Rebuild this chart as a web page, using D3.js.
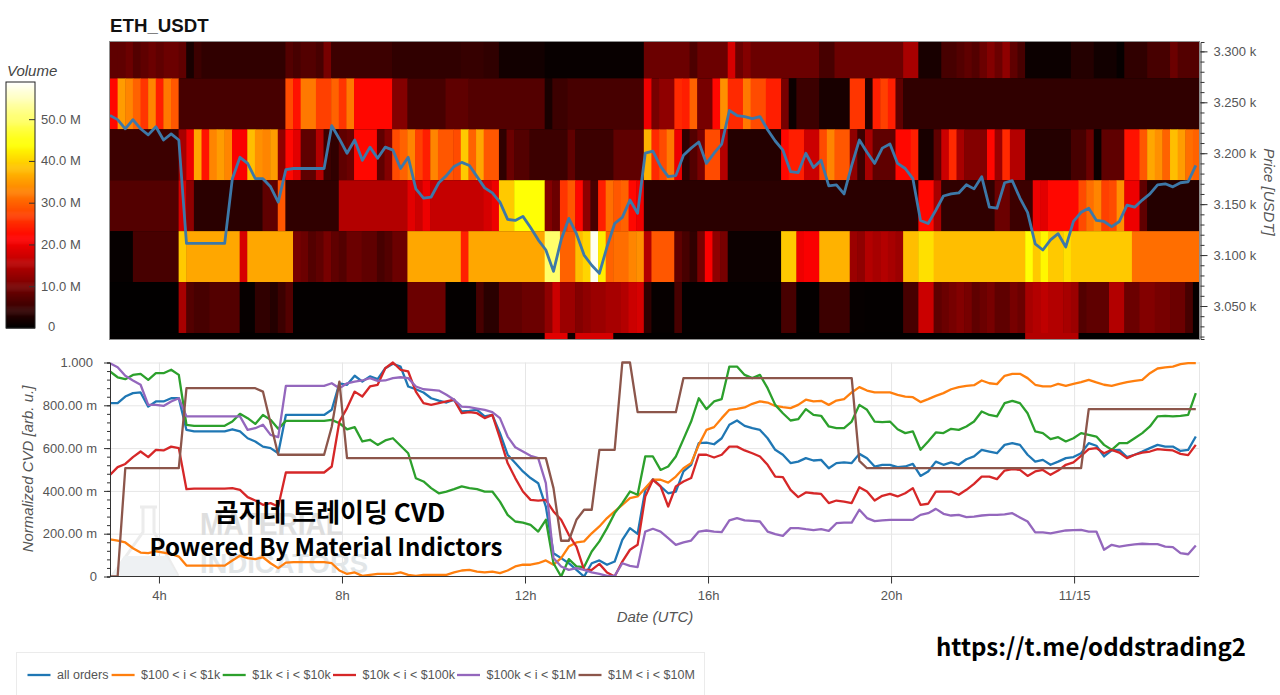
<!DOCTYPE html>
<html>
<head>
<meta charset="utf-8">
<title>ETH_USDT</title>
<script src="https://cdn.jsdelivr.net/npm/d3@7"></script>
<style>
  html, body {margin: 0; padding: 0; background: #fff; overflow: hidden;}
  svg {display: block; font-family: "Liberation Sans", Arial, sans-serif;}
  .axis path.domain {stroke: #333;}
  .axis line {stroke: #333;}
  .axis text {fill: #555; font-size: 13px; font-family: "Liberation Sans", Arial, sans-serif;}
  .grid line {stroke: #e6e6e6;}
  .grid path {display: none;}
</style>
</head>
<body>
<div id="chart"></div>
<script>
// volume heatmap: each row is a price bin, each pair is [10 min column where a run starts, volume in M]
const heat_3300 = [[0,8],[1,8],[2,9],[3,7],[4,8],[5,9],[6,8],[7,9],[9,8],[10,2],[11,5],[12,4],[23,7],[24,6],[25,7],[27,6],[28,10],[29,5],[37,4],[46,4.5],[49,4],[51,1.5],[57,0.7],[70,9],[76,6.5],[77,9],[81,18],[82,9],[83,11],[84,9],[93,6],[95,9],[104,14],[106,2],[109,6],[111,7],[112,8],[113,7],[114,9],[115,11],[116,9],[117,12],[118,8],[119,6],[120,1],[126,3],[129,1.5],[132,0.5],[133,4],[136,6],[139,9],[140,7]];
const heat_3250 = [[0,22],[1,35],[2,33],[3,30],[4,26],[5,33],[6,24],[7,32],[8,29],[9,6],[23,28],[24,23],[25,32],[27,27],[29,30],[30,26],[31,32],[32,22],[37,11],[39,6],[44,8],[47,7],[57,2],[58,5],[60,6],[70,20],[71,10],[72,12],[74,25],[75,24],[76,30],[77,10],[79,22],[80,34],[81,25],[83,32],[84,28],[86,24],[88,10],[89,1],[90,5],[93,2],[97,26],[99,3],[100,24],[101,27],[102,24],[103,8],[104,4]];
const heat_3200 = [[0,5],[9,14],[10,20],[11,36],[12,23],[13,33],[14,35],[15,33],[16,21],[18,38],[19,34],[20,33],[21,35],[22,12],[23,22],[24,19],[25,8],[27,15],[28,5],[29,4],[30,8],[31,9],[32,22],[35,8],[36,11],[37,28],[38,30],[39,33],[40,27],[41,24],[42,33],[43,29],[45,28],[46,39],[47,30],[48,36],[49,29],[51,4],[52,9],[53,7],[55,5],[60,8],[61,5],[66,8],[70,37],[71,25],[72,28],[73,32],[74,20],[75,4],[76,7],[77,10],[78,28],[80,15],[81,3],[88,22],[89,24],[91,17],[93,28],[94,33],[95,29],[97,12],[98,5],[99,14],[100,8],[103,22],[105,24],[106,2],[108,8],[109,17],[110,25],[111,14],[112,11],[115,22],[116,13],[117,25],[118,15],[120,3],[126,6],[128,9],[129,1],[130,8],[133,23],[135,29],[136,36],[137,34],[138,30],[139,38],[140,35],[141,31],[142,30]];
const heat_3150 = [[0,7],[9,18],[10,12],[11,3.5],[20,8],[22,29],[23,4],[30,15],[39,19],[40,17],[41,20],[42,16.5],[49,18],[50,20],[51,39],[53,44],[57,11],[58,9],[59,26],[60,29],[61,22],[62,12],[63,6],[64,24],[65,31],[66,29],[67,30],[68,22],[69,20],[70,3.5],[106,22],[108,14],[109,4],[116,9],[118,5],[121,20],[122,19],[123,22],[127,28],[128,31],[129,33],[130,27],[131,28],[132,34],[133,20],[135,8],[136,3]];
const heat_3100 = [[0,0.5],[3,6],[9,39],[10,36],[17,18],[18,36],[24,10],[25,9],[26,7],[27,8],[28,10],[29,8],[30,7],[31,9],[33,8],[35,6],[36,7],[37,9],[39,36],[46,24],[47,36],[57,50],[59,30],[61,38],[62,40],[63,58],[64,42],[65,30],[66,31],[68,33],[69,34],[70,15],[71,29],[74,8],[75,6],[76,4],[77,10],[78,21],[79,12],[80,10],[81,1],[88,39],[90,20],[91,21],[93,37],[97,13],[98,12],[99,15],[100,14],[101,15],[102,14],[103,13],[104,38],[106,41],[108,38],[120,44],[121,39],[122,43],[123,39],[125,41],[126,39],[134,31]];
const heat_3050 = [[0,0.2],[9,14],[10,7],[11,6],[13,7],[17,0.5],[19,4],[21,3],[22,5],[23,7],[24,0.3],[39,9],[44,0.3],[48,6],[49,3.5],[51,8],[54,9],[57,12],[58,17],[59,13],[61,11],[62,12],[63,13],[65,14],[67,15],[68,17],[69,18],[70,4],[71,0.5],[74,6],[75,0.3],[88,6],[90,0.3],[93,5],[97,0.5],[99,0.3],[104,6],[106,17],[108,8],[109,9],[110,10],[111,11],[112,10],[113,8],[114,9],[115,10],[116,8],[118,10],[119,9],[120,14],[121,15],[122,16],[123,15],[125,14],[126,13],[127,7],[128,8],[131,15],[133,9],[135,11],[137,10],[139,9],[141,6],[142,0.5]];
const heat_3000 = [[0,0.2],[57,19],[60,1],[61,18],[66,0.2],[120,15],[127,0.2]];
const heat_rows = [heat_3300, heat_3250, heat_3200, heat_3150, heat_3100, heat_3050, heat_3000];
const bin_tops = [3323.5, 3273.5, 3223.5, 3173.5, 3123.5, 3073.5, 3023.5];
const bin_size = 50;
const columns = 143;

const price = [3237,3233,3224,3233,3224,3218,3226,3213,3219,3213,
  3111.5,3111.5,3111.5,3111.5,3111.5,3111.5,3175,3196,3190,3175,
  3175,3167,3152,3184,3185,3185,3185,3185,3185,3227,
  3214,3200,3213,3193,3206,3195,3206,3203,3185,3196,
  3165,3156,3157,3171,3178,3187,3191,3188,3177,3166,
  3161,3152,3135,3134,3138,3127,3115,3105,3084,3115,
  3136,3121,3100,3090,3082,3108,3131,3137,3154,3141,
  3200,3202,3187,3177,3178,3198,3205,3211,3190,3200,
  3209,3242,3237,3236,3234,3236,3223,3212,3203,3182,
  3181,3200,3186,3193,3168,3169,3160,3188,3213,3201,
  3190,3205,3209,3190,3185,3175,3134,3131,3144,3158,
  3160,3161,3169,3165,3177,3147,3146,3171,3173,3156,
  3142,3111,3105,3115,3121,3108,3133,3142,3146,3134,
  3133,3128,3133,3149,3147,3154,3160,3169,3170,3167,
  3171,3172,3188];

// normalized CVD, in thousandths
const cvd_all = [810,810,841,857,860,794,818,818,833,833,
  685,678,678,678,678,678,688,678,646,631,
  607,600,576,755,755,755,755,755,755,779,
  903,896,938,911,935,922,973,994,981,888,
  875,860,833,822,813,826,771,774,779,748,
  755,670,569,530,491,460,436,327,109,86,
  62,31,0,62,75,55,70,171,226,199,
  405,455,421,389,397,491,522,623,626,618,
  646,709,729,704,693,685,646,592,569,530,
  537,553,542,545,506,530,533,530,573,553,
  514,522,522,511,514,526,470,491,537,522,
  533,522,548,561,592,584,576,615,623,615,
  569,537,545,522,537,553,558,576,623,611,
  561,589,592,558,569,584,600,615,607,607,
  587,592,654];
const cvd_100_1k = [174,168,159,132,112,109,118,112,106,93,
  51,51,51,51,51,51,75,97,86,81,
  90,62,39,65,67,67,67,67,67,62,
  28,12,19,3,8,12,12,12,19,8,
  3,8,8,8,8,19,28,31,23,19,
  23,16,28,47,55,55,62,75,55,86,
  140,159,164,202,234,273,304,335,366,374,
  413,452,452,439,467,506,530,615,685,698,
  740,779,783,790,807,818,813,797,791,787,
  802,826,818,821,802,822,829,860,885,869,
  860,860,860,849,841,838,815,829,844,857,
  875,885,891,894,916,903,899,938,947,947,
  927,896,888,888,900,891,900,908,919,907,
  896,891,900,908,914,919,950,972,977,981,
  992,997,997];
const cvd_1k_10k = [958,931,922,942,947,919,950,950,966,942,
  709,704,704,704,704,704,724,760,740,713,
  755,732,690,727,727,727,727,727,727,732,
  716,688,698,631,639,615,636,646,611,576,
  459,444,413,389,397,408,421,413,408,397,
  397,350,288,257,252,241,210,265,62,0,
  81,47,44,117,164,226,296,343,397,382,
  561,561,498,514,561,642,724,833,782,818,
  829,981,981,942,927,942,880,802,763,729,
  735,782,755,751,701,693,693,724,802,779,
  724,721,724,688,670,678,592,631,673,670,
  690,685,701,724,771,755,748,810,821,810,
  763,678,670,642,651,631,646,670,662,654,
  615,592,623,623,646,670,701,748,751,748,
  751,755,857];
const cvd_10k_100k = [475,511,526,558,584,558,592,589,607,600,
  408,411,411,411,411,411,413,405,371,355,
  335,343,327,486,486,486,486,486,486,514,
  724,787,864,841,888,896,973,1000,966,958,
  864,810,802,810,818,826,763,768,763,740,
  755,646,530,460,397,358,355,358,304,265,
  195,140,31,31,59,19,0,70,125,148,
  374,452,421,327,421,444,460,569,569,556,
  569,607,607,589,576,561,522,467,464,405,
  371,393,389,386,343,355,350,343,417,397,
  355,377,386,374,389,413,335,340,397,397,
  397,382,405,433,467,467,455,495,502,498,
  470,491,498,475,495,522,533,564,595,600,
  576,592,579,553,569,579,584,595,592,589,
  573,567,615];
const cvd_100k_1m = [997,978,938,916,896,802,802,797,818,833,
  748,748,748,748,748,748,748,748,685,693,
  709,662,651,891,891,891,891,891,891,903,
  880,903,911,916,927,914,916,927,931,927,
  888,875,872,869,849,826,794,791,785,779,
  768,740,654,604,584,564,553,436,86,47,
  31,39,31,19,12,3,3,62,50,44,
  210,223,210,179,148,159,168,210,215,210,
  207,262,273,262,260,257,210,198,190,226,
  226,221,217,221,213,249,252,252,312,273,
  259,262,265,265,265,265,288,296,316,293,
  285,288,277,280,285,288,288,290,296,276,
  257,206,206,202,209,215,217,218,210,210,
  125,148,140,145,150,153,151,151,140,137,
  109,104,145];
const cvd_1m_10m = [0,0,506,506,506,506,506,506,506,506,
  880,880,880,880,880,880,880,880,880,880,
  864,716,569,569,569,569,569,569,569,700,
  911,553,553,553,553,553,553,553,553,553,
  553,553,553,553,553,553,553,553,553,553,
  553,553,553,553,553,553,553,553,413,167,
  167,265,312,312,592,592,592,1000,1000,768,
  768,768,768,768,768,927,927,927,927,927,
  927,927,927,927,927,927,927,927,927,927,
  927,927,927,927,927,927,927,927,540,506,
  506,506,506,506,506,506,506,506,506,506,
  506,506,506,506,506,506,506,506,506,506,
  506,506,506,506,506,506,506,506,782,782,
  782,782,782,782,782,782,782,782,782,782,
  782,782,782];

const series_names = ["all orders", "$100 < i < $1k", "$1k < i < $10k", "$10k < i < $100k", "$100k < i < $1M", "$1M < i < $10M"];
const series_values = [cvd_all, cvd_100_1k, cvd_1k_10k, cvd_10k_100k, cvd_100k_1m, cvd_1m_10m];
const series_colors = ["#1f77b4", "#ff7f0e", "#2ca02c", "#d62728", "#9467bd", "#8c564b"];

const x_tick_hours = [4, 8, 12, 16, 20, 24];
const x_tick_labels = ["4h", "8h", "12h", "16h", "20h", "11/15"];
const price_ticks = [3050, 3100, 3150, 3200, 3250, 3300];
const price_tick_labels = ["3.050 k", "3.100 k", "3.150 k", "3.200 k", "3.250 k", "3.300 k"];
const cvd_ticks = [0, 200, 400, 600, 800, 1000];
const cvd_tick_labels = ["0", "200.00 m", "400.00 m", "600.00 m", "800.00 m", "1.000"];
const volume_ticks = [0, 10, 20, 30, 40, 50];
const volume_tick_labels = ["0", "10.0 M", "20.0 M", "30.0 M", "40.0 M", "50.0 M"];

const width = 1280, height = 695;
const left = 110, right = 1199;
const start_hour = 2.93, end_hour = 26.73, last_sample_hour = 26.66;

const svg = d3.select("#chart").append("svg")
    .attr("width", width)
    .attr("height", height);

const x = d3.scaleLinear().domain([start_hour, end_hour]).range([left, right]);
const sample_hour = d3.scaleLinear().domain([0, columns - 1]).range([start_hour, last_sample_hour]);
const y_price = d3.scaleLinear().domain([3017.6, 3309.2]).range([339, 42]);
const y_cvd = d3.scaleLinear().domain([0, 1000]).range([576.5, 362.5]);
const y_volume = d3.scaleLinear().domain([0, 58.9]).range([328, 82]);

// same shape as the bokeh Hot palette: black, red, yellow, white
const hot = d3.scaleLinear()
    .domain([0, 21.4, 43.7, 58.9])
    .range(["#000000", "#ff0000", "#ffff00", "#ffffff"])
    .clamp(true);

svg.append("defs").append("clipPath").attr("id", "heat-clip")
    .append("rect").attr("x", left).attr("y", 41).attr("width", right - left + 1).attr("height", 298);
svg.select("defs").append("clipPath").attr("id", "cvd-clip")
    .append("rect").attr("x", left).attr("y", 361).attr("width", right - left + 1).attr("height", 216);

/* heatmap */
const heat = svg.append("g").attr("clip-path", "url(#heat-clip)");
heat.append("rect").attr("x", left).attr("y", 41).attr("width", right - left + 1).attr("height", 298).attr("fill", "#0a0000");

heat_rows.forEach(function (row, r) {
    const runs = row.map(function (run, k) {
        const next = k + 1 < row.length ? row[k + 1][0] : columns;
        return {start: run[0], stop: next, volume: run[1]};
    });
    heat.append("g").selectAll("rect").data(runs).join("rect")
        .attr("x", d => x(start_hour + d.start / 6))
        .attr("width", d => x(start_hour + d.stop / 6) - x(start_hour + d.start / 6) + 0.5)
        .attr("y", y_price(bin_tops[r]))
        .attr("height", y_price(bin_tops[r] - bin_size) - y_price(bin_tops[r]))
        .attr("fill", d => hot(d.volume));
});

heat.append("path")
    .datum(price)
    .attr("fill", "none")
    .attr("stroke", "#3d78a8")
    .attr("stroke-width", 2.8)
    .attr("stroke-linejoin", "round")
    .attr("d", d3.line().x((d, i) => x(sample_hour(i))).y(d => y_price(d)));

svg.append("rect").attr("x", left - 0.5).attr("y", 41.5).attr("width", right - left + 1).attr("height", 298)
    .attr("fill", "none").attr("stroke", "#8f8f8f");

svg.append("text").text("ETH_USDT")
    .attr("x", 110).attr("y", 32)
    .attr("font-size", 18.7).attr("font-weight", "bold").attr("fill", "#111");

const price_minor = d3.range(3020, 3310, 10);
svg.append("g").attr("class", "axis").attr("transform", "translate(1200.5,0)")
    .call(d3.axisRight(y_price).tickValues(price_minor).tickSize(4).tickFormat(""));
svg.append("g").attr("class", "axis").attr("transform", "translate(1200.5,0)")
    .call(d3.axisRight(y_price).tickValues(price_ticks).tickSize(7).tickPadding(6)
        .tickFormat((d, i) => price_tick_labels[i]))
    .call(g => g.select(".domain").remove());

svg.append("text").text("Price [USDT]")
    .attr("transform", "translate(1264,192) rotate(90)")
    .attr("text-anchor", "middle").attr("font-size", 15).attr("font-style", "italic").attr("fill", "#555");

/* colour bar */
const bar = d3.range(0, 58.9, 0.25);
svg.append("g").selectAll("rect").data(bar).join("rect")
    .attr("x", 6).attr("width", 29)
    .attr("y", d => y_volume(d + 0.25))
    .attr("height", d => y_volume(d) - y_volume(d + 0.25) + 0.5)
    .attr("fill", d => hot(d));
svg.append("rect").attr("x", 6).attr("y", 82).attr("width", 29).attr("height", 246)
    .attr("fill", "none").attr("stroke", "#222");
svg.append("g").attr("class", "axis").attr("transform", "translate(35,0)")
    .call(d3.axisLeft(y_volume).tickValues(volume_ticks.slice(1)).tickSize(6).tickFormat(""))
    .call(g => g.select(".domain").remove());
svg.append("g").selectAll("text").data(volume_ticks).join("text")
    .attr("x", d => d === 0 ? 48 : 41)
    .attr("y", d => d === 0 ? 326.5 : y_volume(d))
    .attr("dy", "0.35em")
    .attr("font-size", 13).attr("fill", "#555")
    .text((d, i) => volume_tick_labels[i]);
svg.append("text").text("Volume")
    .attr("x", 7).attr("y", 76)
    .attr("font-size", 15).attr("font-style", "italic").attr("fill", "#444");

/* cvd panel */
svg.append("g").attr("class", "grid").attr("transform", "translate(110,0)")
    .call(d3.axisLeft(y_cvd).tickValues(cvd_ticks.slice(1)).tickSize(-(right - left)).tickFormat(""));
svg.append("g").attr("class", "grid").attr("transform", "translate(0,576.5)")
    .call(d3.axisBottom(x).tickValues(x_tick_hours).tickSize(-214).tickFormat(""));
svg.append("line").attr("x1", right + 0.5).attr("x2", right + 0.5).attr("y1", 362).attr("y2", 577).attr("stroke", "#e6e6e6");

/* faint logo that sits behind the lines */
const logo = svg.append("g").attr("clip-path", "url(#cvd-clip)");
logo.append("path")
    .attr("d", "M140,507 L157,507 M143,507 L143,532 L112,576 M154,507 L154,532 L178,576")
    .attr("fill", "none").attr("stroke", "#ececec").attr("stroke-width", 3);
logo.append("path").attr("d", "M124,556 L166,556 L178,576 L112,576 Z").attr("fill", "#eef1f3");
logo.append("text").text("MATERIAL")
    .attr("x", 200).attr("y", 535).attr("font-size", 32).attr("font-weight", "bold")
    .attr("textLength", 143).attr("lengthAdjust", "spacingAndGlyphs").attr("fill", "#dedede");
logo.append("text").text("INDICATORS")
    .attr("x", 200).attr("y", 573).attr("font-size", 28).attr("font-weight", "bold")
    .attr("textLength", 168).attr("lengthAdjust", "spacingAndGlyphs").attr("fill", "#e2e6e8");

const lines = svg.append("g").attr("clip-path", "url(#cvd-clip)");
lines.selectAll("path").data(series_values).join("path")
    .attr("fill", "none")
    .attr("stroke", (d, i) => series_colors[i])
    .attr("stroke-width", 2.3)
    .attr("stroke-linejoin", "round")
    .attr("d", d3.line().x((d, i) => x(sample_hour(i))).y(d => y_cvd(d)));

const cvd_minor = d3.range(0, 1001, 40);
svg.append("g").attr("class", "axis").attr("transform", "translate(110,0)")
    .call(d3.axisLeft(y_cvd).tickValues(cvd_minor).tickSize(3).tickFormat(""));
svg.append("g").attr("class", "axis").attr("transform", "translate(110,0)")
    .call(d3.axisLeft(y_cvd).tickValues(cvd_ticks).tickSize(6).tickPadding(7)
        .tickFormat((d, i) => cvd_tick_labels[i]))
    .call(g => g.select(".domain").remove())
    .call(g => g.selectAll("text").attr("dx", d => d === 1000 ? -4 : 0));
svg.append("g").attr("class", "axis").attr("transform", "translate(0,576.5)")
    .call(d3.axisBottom(x).tickValues(x_tick_hours).tickSize(7).tickPadding(7)
        .tickFormat((d, i) => x_tick_labels[i]))
    .call(g => g.select(".domain").attr("d", "M110,0H1199"));

svg.append("text").text("Normalized CVD [arb. u.]")
    .attr("transform", "translate(33,469) rotate(-90)")
    .attr("text-anchor", "middle").attr("font-size", 15).attr("font-style", "italic").attr("fill", "#555");
svg.append("text").text("Date (UTC)")
    .attr("x", 655).attr("y", 622)
    .attr("text-anchor", "middle").attr("font-size", 15).attr("font-style", "italic").attr("fill", "#555");

/* overlay captions */
const caption = "\"Noto Sans CJK KR\", \"Noto Sans\", sans-serif";
svg.append("text").text("곰지네 트레이딩 CVD")
    .attr("x", 330).attr("y", 522).attr("text-anchor", "middle")
    .attr("font-family", caption).attr("font-size", 26).attr("font-weight", 700).attr("fill", "#000");
svg.append("text").text("Powered By Material Indictors")
    .attr("x", 326).attr("y", 556).attr("text-anchor", "middle")
    .attr("font-family", caption).attr("font-size", 24).attr("font-weight", 700).attr("fill", "#000");
svg.append("text").text("https://t.me/oddstrading2")
    .attr("x", 1091).attr("y", 656).attr("text-anchor", "middle")
    .attr("font-family", caption).attr("font-size", 24).attr("font-weight", 700).attr("fill", "#000");

/* legend */
svg.append("rect").attr("x", 16.5).attr("y", 652.5).attr("width", 688).attr("height", 60)
    .attr("fill", "#fff").attr("stroke", "#ebebeb");
const legend_x = [27.5, 111.6, 222.7, 333, 457, 578.5];
const legend = svg.append("g").selectAll("g").data(series_names).join("g");
legend.append("line")
    .attr("x1", (d, i) => legend_x[i]).attr("x2", (d, i) => legend_x[i] + 23)
    .attr("y1", 675).attr("y2", 675)
    .attr("stroke", (d, i) => series_colors[i]).attr("stroke-width", 2.3);
legend.append("text")
    .attr("x", (d, i) => legend_x[i] + 29.5).attr("y", 675).attr("dy", "0.35em")
    .attr("font-size", 12.5).attr("fill", "#555")
    .text(d => d);
</script>
</body>
</html>
